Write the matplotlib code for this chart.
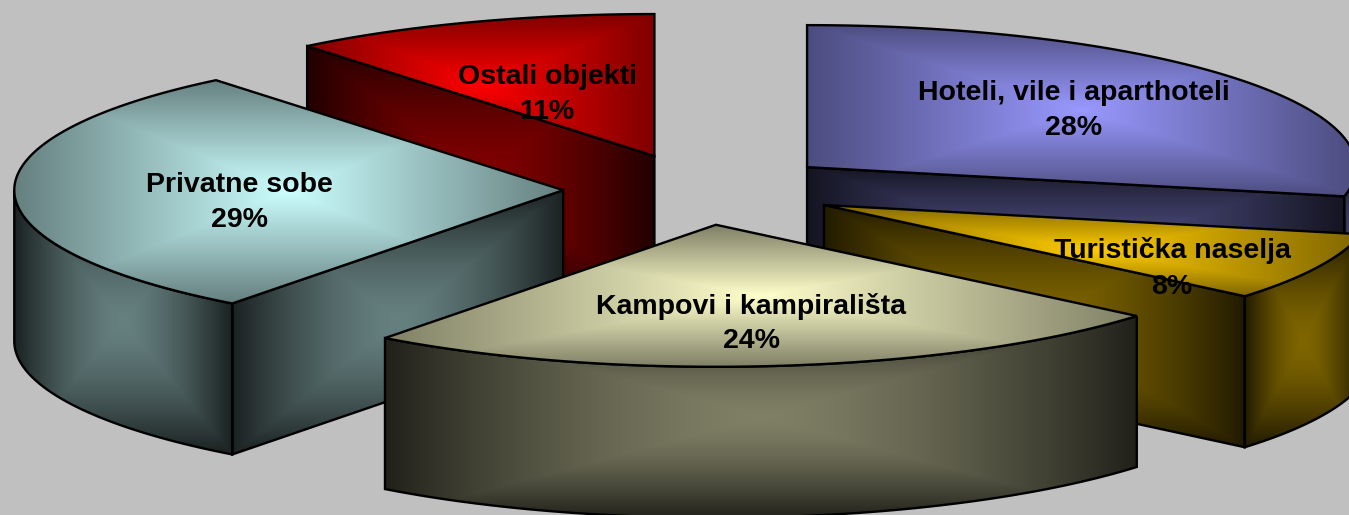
import numpy as np
import matplotlib
matplotlib.use("Agg")
import matplotlib.pyplot as plt
from matplotlib.patches import Polygon

# --- data ---
categories = ["Hoteli, vile i aparthoteli", "Turistička naselja", "Kampovi i kampirališta",
              "Privatne sobe", "Ostali objekti"]
shares = [28.3, 7.8, 24.2, 28.8, 10.9]
colors = [(153, 153, 255), (255, 204, 0), (255, 255, 204), (204, 255, 255), (255, 0, 0)]

# --- layout (pixels) ---
W, H = 1349, 515
CX, CY = 700.5, 189.5      # pie centre
RX, RY = 549, 142          # ellipse radii of the tilted pie
DEPTH = 151                # extruded height
EXPLODE = 0.25             # slice explosion as a fraction of the radius
draw_order = [4, 0, 3, 1, 2]
label_pos = [(1074, 110.5), (1172, 268.5), (751, 323.5), (239, 202.5), (547, 94.5)]
TOP_K = (1.0, 0.5)         # brightness centre / edge of the top faces
SIDE_K = (0.5, 0.13)       # brightness centre / edge of the side faces

plt.rcParams["font.family"] = ["Liberation Sans", "DejaVu Sans"]
fig = plt.figure(figsize=(W / 100, H / 100), dpi=100, facecolor="#C0C0C0")
ax = fig.add_axes([0, 0, 1, 1])
ax.set_facecolor("#C0C0C0")
ax.set_axis_off()


def gradient_face(pts, color, k, z, power):
    pts = np.asarray(pts)
    x0, y0 = pts.min(axis=0)
    x1, y1 = pts.max(axis=0)
    u, v = np.meshgrid(np.linspace(-1, 1, 240), np.linspace(-1, 1, 240))
    t = np.maximum(np.abs(u), np.abs(v)) ** power
    shade = k[0] + (k[1] - k[0]) * t
    rgb = np.clip(shade[..., None] * np.array(color) / 255.0, 0, 1)
    im = ax.imshow(rgb, extent=(x0, x1, y1, y0), origin="upper", aspect="auto",
                   interpolation="bilinear", zorder=z)
    clip = Polygon(pts, closed=True, transform=ax.transData, facecolor="none")
    im.set_clip_path(clip)
    ax.add_patch(Polygon(pts, closed=True, fill=False, edgecolor="black", linewidth=1.7,
                         joinstyle="miter", zorder=z + 0.5))


total = sum(shares)
edges = np.concatenate([[0], np.cumsum(shares)]) * 360.0 / total


def rim(ox, oy, a0, a1, n=120):
    th = np.radians(np.linspace(a0, a1, n))
    return np.column_stack([ox + RX * np.sin(th), oy - RY * np.cos(th)])


z = 1
for i in draw_order:
    s, e = edges[i], edges[i + 1]
    mid = np.radians((s + e) / 2)
    ox = CX + EXPLODE * RX * np.sin(mid)
    oy = CY - EXPLODE * RY * np.cos(mid)
    apex = np.array([ox, oy])
    down = np.array([0, DEPTH])
    # cut faces
    for ang, visible in ((s, s > 180), (e, e < 180)):
        if visible:
            p = rim(ox, oy, ang, ang, 1)[0]
            gradient_face([apex, p, p + down, apex + down], colors[i], SIDE_K, z, 1.5)
            z += 1
    # outer wall
    a0, a1 = max(s, 90), min(e, 270)
    if a1 > a0:
        arc = rim(ox, oy, a0, a1)
        gradient_face(np.vstack([arc, (arc + down)[::-1]]), colors[i], SIDE_K, z, 1.5)
        z += 1
    # top face
    gradient_face(np.vstack([[apex], rim(ox, oy, s, e)]), colors[i], TOP_K, z, 1.0)
    z += 1

for name, share, (lx, ly) in zip(categories, shares, label_pos):
    ax.text(lx, ly, f"{name}\n{round(share)}%", ha="center", va="center", fontsize=20.5,
            fontweight="bold", color="black", linespacing=1.45, zorder=z + 1)

ax.set_xlim(0, W)
ax.set_ylim(H, 0)
fig.savefig("out.png", dpi=100, facecolor=fig.get_facecolor())
